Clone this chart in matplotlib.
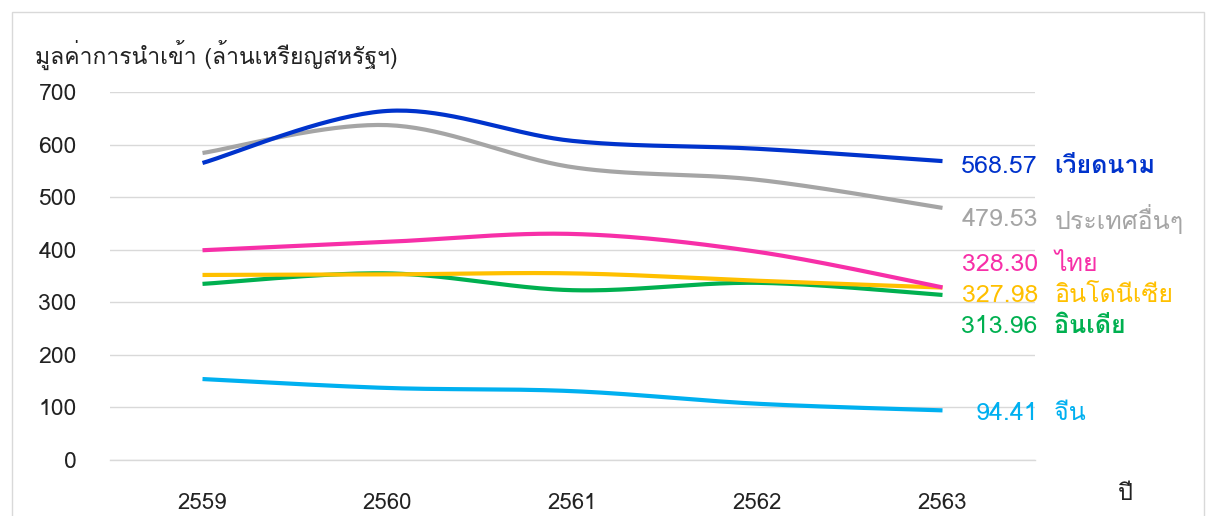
import numpy as np
import matplotlib
matplotlib.use("Agg")
import matplotlib.pyplot as plt
from matplotlib import font_manager as fm
from matplotlib.ft2font import FT2Font
from matplotlib.patches import Rectangle

# ---------------- data ----------------
years = ["2559", "2560", "2561", "2562", "2563"]
vietnam = [565, 664, 607, 592, 568.57]
others = [584, 637, 557, 533, 479.53]
thailand = [399, 415, 430, 396, 328.30]
indonesia = [352, 353, 355, 341, 327.98]
india = [335, 355, 323, 337, 313.96]
china = [154, 137, 131, 107, 94.41]

series_names = ["เวียดนาม", "ประเทศอื่นๆ", "ไทย", "อินโดนีเซีย", "อินเดีย", "จีน"]
series_values = [vietnam, others, thailand, indonesia, india, china]
end_labels = ["568.57", "479.53", "328.30", "327.98", "313.96", "94.41"]
colors = ["#0033CC", "#A5A5A5", "#F72FA8", "#FFC000", "#00B050", "#00B0F0"]
label_y = [559, 458, 371, 312, 253, 89]   # label positions (layout)

title = "มูลค่าการนำเข้า (ล้านเหรียญสหรัฐฯ)"
xlabel = "ปี"

# ---------------- fonts ----------------
thai_fams = []
for f in fm.fontManager.ttflist:
    try:
        cm = FT2Font(f.fname).get_charmap()
        if 0x0E01 in cm and f.name not in thai_fams:
            thai_fams.append(f.name)
    except Exception:
        pass
fam = thai_fams[:1] + ["DejaVu Sans"]
plt.rcParams["font.family"] = fam


def smooth(xs, ys, n=40):
    xs = np.asarray(xs, float)
    ys = np.asarray(ys, float)
    P = np.column_stack([xs, ys])
    Pext = np.vstack([P[0], P, P[-1]])
    out = []
    for i in range(len(P) - 1):
        p0, p1, p2, p3 = Pext[i], Pext[i + 1], Pext[i + 2], Pext[i + 3]
        c1 = p1 + (p2 - p0) / 6.0
        c2 = p2 - (p3 - p1) / 6.0
        t = np.linspace(0, 1, n)[:, None]
        seg = ((1 - t) ** 3) * p1 + 3 * ((1 - t) ** 2) * t * c1 + 3 * (1 - t) * t ** 2 * c2 + t ** 3 * p2
        out.append(seg if i == 0 else seg[1:])
    s = np.vstack(out)
    return s[:, 0], s[:, 1]


W, H = 1216, 516
fig = plt.figure(figsize=(W / 100, H / 100), dpi=100)
fig.patch.set_facecolor("white")
ax = fig.add_axes([110 / W, 1 - 460 / H, (1035 - 110) / W, (460 - 92) / H])

x = np.arange(len(years))
draw_order = [4, 3, 2, 5, 1, 0]
for i in draw_order:
    sx, sy = smooth(x, series_values[i])
    ax.plot(sx, sy, color=colors[i], lw=3, solid_capstyle="butt", zorder=3 + draw_order.index(i))

ax.set_xlim(-0.5, len(years) - 0.5)
ax.set_ylim(0, 700)
ax.set_yticks(np.arange(0, 701, 100))
ax.set_xticks(x)
ax.set_xticklabels(years, fontsize=16)
ax.tick_params(axis="y", length=0, pad=24, labelsize=16.5, labelcolor="#222222")
ax.tick_params(axis="x", length=0, pad=24, labelcolor="#222222")
ax.grid(axis="y", color="#D9D9D9", lw=1)
ax.axhline(0, color="#D9D9D9", lw=1, clip_on=False, zorder=1)
ax.set_axisbelow(True)
for s in ax.spines.values():
    s.set_visible(False)

xr = len(years) - 1
for i in range(len(series_names)):
    ax.text(xr + 0.515, label_y[i], end_labels[i], color=colors[i], fontsize=18,
            ha="right", va="center", clip_on=False)
    ax.text(xr + 0.605, label_y[i], series_names[i], color=colors[i], fontsize=18,
            ha="left", va="center", clip_on=False,
            fontweight="bold" if i in (0, 4) else "normal")

fig.text(35 / W, 1 - 55 / H, title, fontsize=16.5, ha="left", va="center", color="#222222")
fig.text(1125 / W, 1 - 494 / H, xlabel, fontsize=17, ha="center", va="center", color="#222222")

fig.patches.append(Rectangle((12 / W, -0.1), (1204 - 12) / W, 1.1 - 12 / H,
                             transform=fig.transFigure, fill=False, edgecolor="#D9D9D9", lw=1))

fig.savefig("out.png", dpi=100, facecolor="white")
